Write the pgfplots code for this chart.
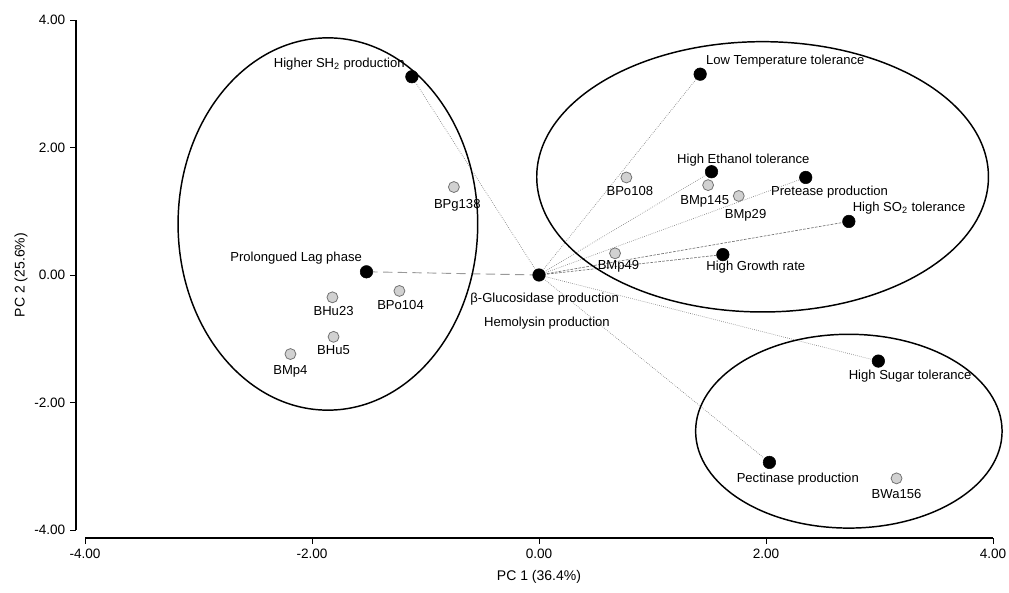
\documentclass[border=0pt]{standalone}
\usepackage{pgfplots}
\pgfplotsset{compat=1.18}
\usepackage{fontspec}
\setmainfont{Liberation Sans}
\tikzset{lab/.style={font=\fontsize{9.8}{11}\selectfont, inner sep=0pt, anchor=center}}
\begin{document}
\begin{tikzpicture}
\useasboundingbox (0,0) rectangle (756.75pt,444pt);
\begin{axis}[
  at={(63.75pt,46.5pt)}, anchor=south west,
  scale only axis, width=681pt, height=382.5pt,
  xmin=-4, xmax=4, ymin=-4, ymax=4,
  clip=false,
  separate axis lines,
  axis x line*=bottom, axis y line*=left,
  axis x line shift=6pt, axis y line shift=6.75pt,
  axis line style={line width=0.8pt, -},
  tick align=outside, major tick length=4.5pt,
  tick style={line width=0.6pt, black},
  xtick={-4,-2,0,2,4}, ytick={-4,-2,0,2,4},
  xticklabels={-4.00,-2.00,0.00,2.00,4.00},
  yticklabels={-4.00,-2.00,0.00,2.00,4.00},
  ticklabel style={font=\fontsize{10.2}{12}\selectfont},
  minor tick num=0,
  xlabel={PC 1 (36.4\%)}, ylabel={PC 2 (25.6\%)},
  every axis x label/.style={at={(rel axis cs:0.5,0)}, yshift=-35.25pt, anchor=center, font=\fontsize{10.5}{12}\selectfont},
  every axis y label/.style={at={(rel axis cs:0,0.5)}, xshift=-48pt, rotate=90, anchor=center, font=\fontsize{10.5}{12}\selectfont},
]
% loading lines from the origin
\addplot[gray, densely dotted, line width=0.5pt, forget plot] coordinates {(0,0) (-1.12,3.11)};
\addplot[gray!80, dash pattern=on 7pt off 4pt, line width=0.7pt, forget plot] coordinates {(0,0) (-1.52,0.05)};
\addplot[gray, densely dotted, line width=0.5pt, forget plot] coordinates {(0,0) (1.42,3.15)};
\addplot[gray, densely dotted, line width=0.5pt, forget plot] coordinates {(0,0) (1.52,1.62)};
\addplot[gray, densely dotted, line width=0.5pt, forget plot] coordinates {(0,0) (2.35,1.53)};
\addplot[gray!90!black, dash pattern=on 2pt off 1pt, line width=0.5pt, forget plot] coordinates {(0,0) (2.73,0.84)};
\addplot[gray!90!black, dash pattern=on 2pt off 1pt, line width=0.5pt, forget plot] coordinates {(0,0) (1.62,0.32)};
\addplot[gray, densely dotted, line width=0.5pt, forget plot] coordinates {(0,0) (2.99,-1.35)};
\addplot[gray, densely dotted, line width=0.5pt, forget plot] coordinates {(0,0) (2.03,-2.94)};
% group ellipses
\draw[line width=1.1pt] (axis cs:-1.86,0.80) ellipse [x radius=1.32, y radius=2.92];
\draw[line width=1.1pt] (axis cs:1.97,1.54) ellipse [x radius=1.99, y radius=2.12];
\draw[line width=1.1pt] (axis cs:2.73,-2.45) ellipse [x radius=1.35, y radius=1.52];
% strains
\addplot[only marks, mark=*, mark size=4.1pt, mark options={fill=black!18, draw=black!55, line width=0.6pt}] coordinates {
(-0.75,1.38) (-1.82,-0.35) (-1.23,-0.25) (-1.81,-0.97) (-2.19,-1.24)
(0.67,0.34) (0.77,1.53) (1.49,1.41) (1.76,1.24) (3.15,-3.19)};
% variables
\addplot[only marks, mark=*, mark size=4.7pt, mark options={fill=black, draw=black}] coordinates {
(-1.12,3.11) (-1.52,0.05) (0,0) (1.42,3.15) (1.52,1.62) (2.35,1.53)
(2.73,0.84) (1.62,0.32) (2.99,-1.35) (2.03,-2.94)};
% labels
\node[lab] at (axis cs:-1.76,3.31) {Higher SH\textsubscript{2} production};
\node[lab] at (axis cs:-2.14,0.27) {Prolongued Lag phase};
\node[lab] at (axis cs:-0.72,1.10) {BPg138};
\node[lab] at (axis cs:-1.81,-0.56) {BHu23};
\node[lab] at (axis cs:-1.22,-0.47) {BPo104};
\node[lab] at (axis cs:-1.81,-1.18) {BHu5};
\node[lab] at (axis cs:-2.19,-1.51) {BMp4};
\node[lab] at (axis cs:0.05,-0.38) {β-Glucosidase production};
\node[lab] at (axis cs:0.07,-0.75) {Hemolysin production};
\node[lab] at (axis cs:2.17,3.36) {Low Temperature tolerance};
\node[lab] at (axis cs:1.80,1.80) {High Ethanol tolerance};
\node[lab] at (axis cs:0.80,1.32) {BPo108};
\node[lab] at (axis cs:1.46,1.15) {BMp145};
\node[lab] at (axis cs:2.56,1.30) {Pretease production};
\node[lab] at (axis cs:1.82,0.93) {BMp29};
\node[lab] at (axis cs:3.26,1.05) {High SO\textsubscript{2} tolerance};
\node[lab] at (axis cs:0.70,0.13) {BMp49};
\node[lab] at (axis cs:1.91,0.13) {High Growth rate};
\node[lab] at (axis cs:3.27,-1.58) {High Sugar tolerance};
\node[lab] at (axis cs:2.28,-3.20) {Pectinase production};
\node[lab] at (axis cs:3.15,-3.44) {BWa156};
\end{axis}
\end{tikzpicture}
\end{document}
